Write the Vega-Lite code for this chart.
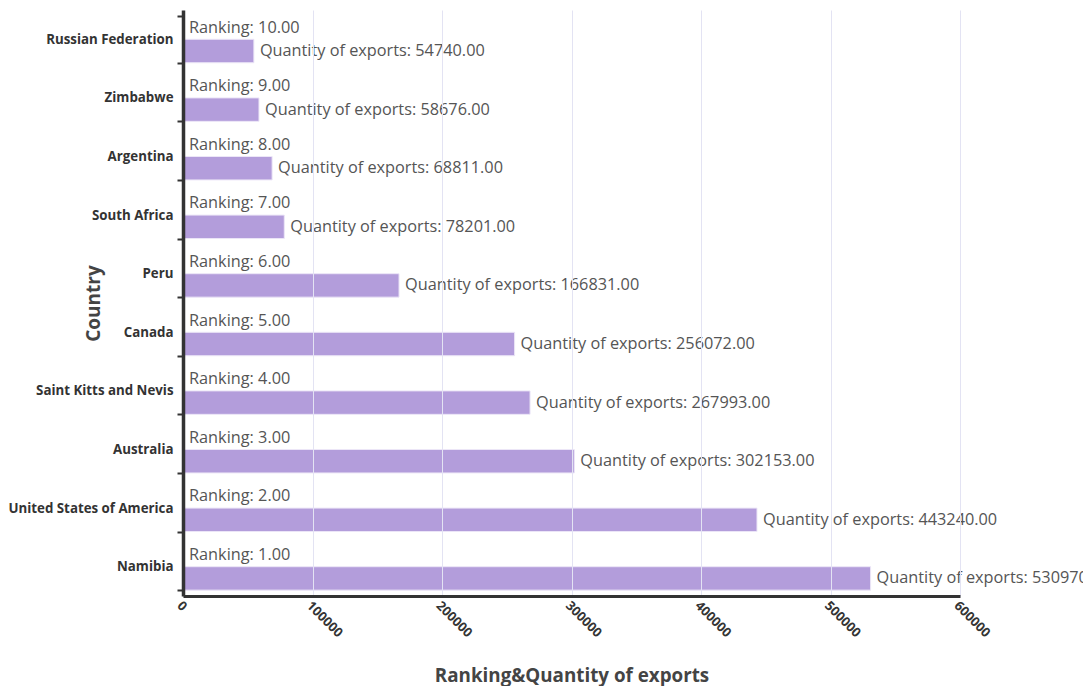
{
  "$schema": "https://vega.github.io/schema/vega-lite/v6.json",
  "autosize": {"type": "none"},
  "width": 777,
  "height": 586,
  "padding": {"left": 183, "top": 10, "right": 123, "bottom": 90},
  "background": "white",
  "config": {"view": {"stroke": null}, "font": "Open Sans"},
  "data": {
    "values": [
      {"country": "Russian Federation", "series": "Ranking", "value": 10},
      {"country": "Russian Federation", "series": "Quantity of exports", "value": 54740},
      {"country": "Zimbabwe", "series": "Ranking", "value": 9},
      {"country": "Zimbabwe", "series": "Quantity of exports", "value": 58676},
      {"country": "Argentina", "series": "Ranking", "value": 8},
      {"country": "Argentina", "series": "Quantity of exports", "value": 68811},
      {"country": "South Africa", "series": "Ranking", "value": 7},
      {"country": "South Africa", "series": "Quantity of exports", "value": 78201},
      {"country": "Peru", "series": "Ranking", "value": 6},
      {"country": "Peru", "series": "Quantity of exports", "value": 166831},
      {"country": "Canada", "series": "Ranking", "value": 5},
      {"country": "Canada", "series": "Quantity of exports", "value": 256072},
      {"country": "Saint Kitts and Nevis", "series": "Ranking", "value": 4},
      {"country": "Saint Kitts and Nevis", "series": "Quantity of exports", "value": 267993},
      {"country": "Australia", "series": "Ranking", "value": 3},
      {"country": "Australia", "series": "Quantity of exports", "value": 302153},
      {"country": "United States of America", "series": "Ranking", "value": 2},
      {"country": "United States of America", "series": "Quantity of exports", "value": 443240},
      {"country": "Namibia", "series": "Ranking", "value": 1},
      {"country": "Namibia", "series": "Quantity of exports", "value": 530970}
    ]
  },
  "transform": [
    {"calculate": "datum.series + ': ' + format(datum.value, '.2f')", "as": "label"}
  ],
  "encoding": {
    "y": {
      "field": "country",
      "type": "nominal",
      "sort": ["Russian Federation", "Zimbabwe", "Argentina", "South Africa", "Peru", "Canada", "Saint Kitts and Nevis", "Australia", "United States of America", "Namibia"],
      "scale": {"paddingInner": 0.2, "paddingOuter": 0.1},
      "axis": {
        "zindex": 1,
        "title": "Country",
        "titleFont": "Open Sans",
        "titleFontSize": 19,
        "titleFontWeight": "bold",
        "titleColor": "#444444",
        "titleX": -90,
        "titleY": 293,
        "titleAlign": "center",
        "titleBaseline": "middle",
        "titleAngle": -90,
        "labelFont": "Open Sans",
        "labelFontSize": 13.3,
        "labelFontWeight": "bold",
        "labelColor": "#333333",
        "labelPadding": 4,
        "domainColor": "#333333",
        "domainWidth": 3.5,
        "tickColor": "#333333",
        "tickWidth": 2,
        "tickSize": 6,
        "tickBand": "extent",
        "grid": false
      }
    },
    "yOffset": {
      "field": "series",
      "type": "nominal",
      "sort": ["Ranking", "Quantity of exports"],
      "scale": {"paddingInner": 0, "paddingOuter": 0}
    },
    "x": {
      "field": "value",
      "type": "quantitative",
      "scale": {"domain": [0, 600000], "nice": false},
      "axis": {
        "zindex": 1,
        "title": "Ranking&Quantity of exports",
        "titleFont": "Open Sans",
        "titleFontSize": 18.8,
        "titleFontWeight": "bold",
        "titleColor": "#444444",
        "titleY": 79,
        "titleBaseline": "middle",
        "values": [0, 100000, 200000, 300000, 400000, 500000, 600000],
        "format": "d",
        "labelAngle": 45,
        "labelAlign": "left",
        "labelBaseline": "top",
        "labelFont": "Open Sans",
        "labelFontSize": 13,
        "labelFontWeight": "bold",
        "labelColor": "#333333",
        "labelPadding": 3,
        "domainColor": "#333333",
        "domainWidth": 3,
        "ticks": false,
        "grid": true,
        "gridColor": "#e3e3f3",
        "gridWidth": 1
      }
    }
  },
  "layer": [
    {
      "mark": {"type": "bar", "color": "#b39ddb", "stroke": "#ece6f7", "strokeWidth": 1}
    },
    {
      "mark": {"type": "text", "align": "left", "baseline": "middle", "dx": 6, "fontSize": 16.3, "color": "#555555", "font": "Open Sans"},
      "encoding": {"text": {"field": "label", "type": "nominal"}}
    }
  ]
}
